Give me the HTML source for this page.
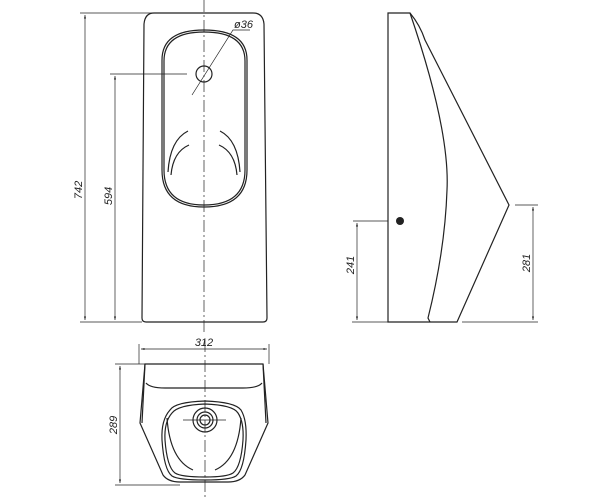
<!DOCTYPE html>
<html><head><meta charset="utf-8"><style>
html,body{margin:0;padding:0;background:#fff;}
svg{display:block;}
text{font-family:"Liberation Sans",sans-serif;font-style:italic;font-size:11px;fill:#222;}
</style></head><body>
<svg width="600" height="500" viewBox="0 0 600 500" xmlns="http://www.w3.org/2000/svg">
<defs>
<marker id="a" viewBox="0 0 10 10" refX="10" refY="5" markerWidth="8" markerHeight="5" orient="auto-start-reverse"><path d="M0,2 L10,5 L0,8z" fill="#222"/></marker>
</defs>
<g fill="none" stroke="#222" stroke-width="1.2">
<!-- front view -->
<path d="M154,13 L253,13 Q263,13 264,24 L267,318 Q267,322 263,322 L146,322 Q142,322 142,318 L144,24 Q145,13 154,13Z"/>
<path d="M162,60 Q162,30 204,30 Q247,30 247,60 L247,170 Q247,207 204,207 Q162,207 162,170Z"/>
<path d="M164,61 Q164,32 204,32 Q245,32 245,61 L245,170 Q245,205 204,205 Q164,205 164,170Z"/>
<path d="M168,172 Q170,140 188,131 M240,172 Q238,140 220,131 M171,175 Q173,152 189,145 M237,175 Q235,152 219,145"/>
<circle cx="204" cy="74" r="8"/>
<!-- side view -->
<path d="M388,13 L410,13 Q420,25 425,40 L509,205 L457,322 L388,322 Z"/>
<path d="M410,13 Q450,130 447,190 Q445,250 428,318 L430,322"/>
<!-- bottom view -->
<path d="M145,364 L263,364 L268,423 L245,475 Q240,482 228,482 L180,482 Q168,482 163,475 L140,423 Z"/>
<path d="M145,364 L142,423 M263,364 L266,423"/>
<path d="M146,383 Q150,388 165,388 L243,388 Q258,388 262,383"/>
<path d="M170,410 Q175,402 205,401 Q235,402 241,410 Q247,420 246,440 Q244,470 236,476 Q230,480 205,480 Q178,480 172,476 Q164,470 162,440 Q161,420 170,410Z"/>
<path d="M172,413 Q178,405 205,404 Q233,405 238,413 Q244,422 243,440 Q241,467 233,473 Q227,477 205,477 Q181,477 175,473 Q167,467 165,440 Q164,422 172,413Z"/>
<path d="M167,418 Q170,460 193,470 M241,418 Q238,460 215,470"/>
<circle cx="205" cy="420" r="12"/><circle cx="205" cy="420" r="8"/><circle cx="205" cy="420" r="5"/>
</g>
<g fill="none" stroke="#222" stroke-width="0.7">
<!-- center lines -->
<path d="M204,0 L204,332 M205,340 L205,500" stroke-dasharray="12,3,2,3"/>
<path d="M183,420 L226,420"/>
<path d="M192,95 L233,30 L250,30"/>
<path d="M110,74 L187,74"/>
<!-- 742 -->
<path d="M80,13 L160,13 M80,322 L142,322"/>
<path d="M85,15 L85,320" marker-start="url(#a)" marker-end="url(#a)"/>
<path d="M115,76 L115,320" marker-start="url(#a)" marker-end="url(#a)"/>
<!-- side dims -->
<path d="M353,221 L388,221 M352,322 L388,322 M515,205 L538,205 M462,322 L538,322"/>
<path d="M357,223 L357,320" marker-start="url(#a)" marker-end="url(#a)"/>
<path d="M533,207 L533,320" marker-start="url(#a)" marker-end="url(#a)"/>
<!-- bottom dims -->
<path d="M139,344 L139,364 M269,344 L269,364"/>
<path d="M141,349 L267,349" marker-start="url(#a)" marker-end="url(#a)"/>
<path d="M115,364 L145,364 M115,485 L180,485"/>
<path d="M120,366 L120,483" marker-start="url(#a)" marker-end="url(#a)"/>
</g>
<circle cx="400" cy="221" r="4" fill="#222"/>
<text x="234" y="28">ø36</text>
<text transform="translate(82,190) rotate(-90)" text-anchor="middle">742</text>
<text transform="translate(112,196) rotate(-90)" text-anchor="middle">594</text>
<text transform="translate(354,265) rotate(-90)" text-anchor="middle">241</text>
<text transform="translate(530,263) rotate(-90)" text-anchor="middle">281</text>
<text x="204" y="346" text-anchor="middle">312</text>
<text transform="translate(117,425) rotate(-90)" text-anchor="middle">289</text>
</svg>
</body></html>
